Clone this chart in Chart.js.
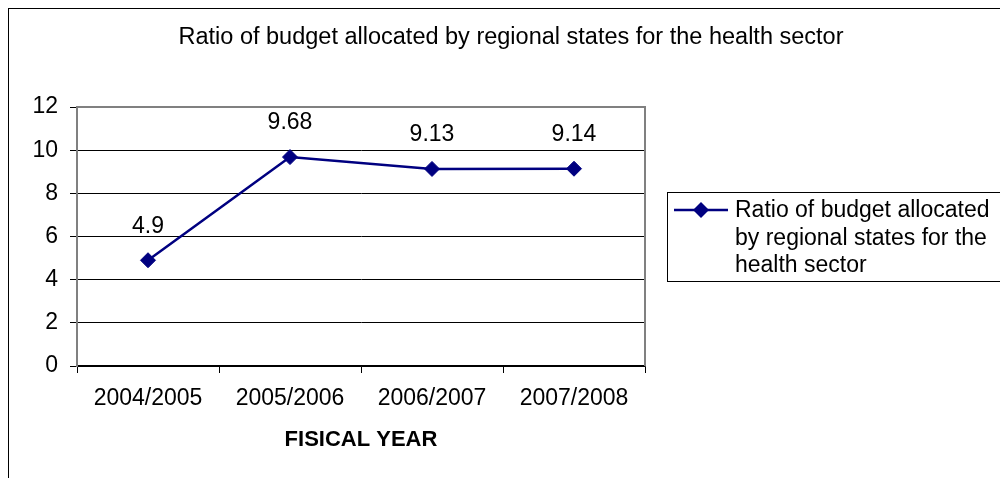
<!DOCTYPE html>
<html>
<head>
<meta charset="utf-8">
<script src="https://cdn.jsdelivr.net/npm/chart.js@4/dist/chart.umd.min.js"></script>
<style>
    html, body { margin: 0; padding: 0; background: #fff; }
    #wrap { width: 1000px; height: 478px; }
</style>
</head>
<body>
<div id="wrap"><canvas id="ratioChart"></canvas></div>
<script>
const chartTitle = 'Ratio of budget allocated by regional states for the health sector';
const fiscalYears = ['2004/2005', '2005/2006', '2006/2007', '2007/2008'];
const budgetRatio = [4.9, 9.68, 9.13, 9.14];
const seriesLabel = 'Ratio of budget allocated by regional states for the health sector';
const xAxisTitle = 'FISICAL YEAR';

const FONT = "'Liberation Sans', Arial, sans-serif";
const NAVY = '#000080';

// frame, plot border, point labels, title and the boxed legend
const decorations = {
    id: 'decorations',
    beforeDatasetsDraw(chart) {
        const { ctx, chartArea: a } = chart;
        ctx.save();
        ctx.strokeStyle = '#808080';
        ctx.lineWidth = 2;
        ctx.beginPath();
        ctx.moveTo(a.left, a.top);
        ctx.lineTo(a.right, a.top);
        ctx.lineTo(a.right, a.bottom);
        ctx.stroke();
        ctx.restore();
    },
    afterDraw(chart) {
        const { ctx } = chart;
        ctx.save();

        ctx.strokeStyle = '#000';
        ctx.lineWidth = 1;
        ctx.strokeRect(8.5, 8.5, 1100, 600);

        ctx.fillStyle = '#000';
        ctx.font = '23.5px ' + FONT;
        ctx.textAlign = 'center';
        ctx.textBaseline = 'middle';
        ctx.fillText(chartTitle, 511, 38);

        // value labels above points
        ctx.font = '23px ' + FONT;
        const meta = chart.getDatasetMeta(0);
        meta.data.forEach((pt, i) => {
            ctx.fillText(String(budgetRatio[i]), pt.x, pt.y - 34);
        });

        // legend
        ctx.strokeStyle = '#000';
        ctx.lineWidth = 1;
        ctx.strokeRect(667.5, 192.5, 400, 89);
        ctx.strokeStyle = NAVY;
        ctx.lineWidth = 2.5;
        ctx.beginPath();
        ctx.moveTo(674, 210);
        ctx.lineTo(728, 210);
        ctx.stroke();
        ctx.fillStyle = NAVY;
        ctx.beginPath();
        ctx.moveTo(701, 202);
        ctx.lineTo(709, 210);
        ctx.lineTo(701, 218);
        ctx.lineTo(693, 210);
        ctx.closePath();
        ctx.fill();

        ctx.fillStyle = '#000';
        ctx.font = '23px ' + FONT;
        ctx.textAlign = 'left';
        const words = seriesLabel.split(' ');
        const lines = [];
        let cur = '';
        words.forEach(w => {
            const test = cur ? cur + ' ' + w : w;
            if (ctx.measureText(test).width > 262 && cur) {
                lines.push(cur);
                cur = w;
            } else {
                cur = test;
            }
        });
        if (cur) lines.push(cur);
        lines.forEach((l, i) => ctx.fillText(l, 735, 211 + i * 27.5));

        ctx.restore();
    },
};

new Chart(document.getElementById('ratioChart'), {
    type: 'line',
    data: {
        labels: fiscalYears,
        datasets: [
            {
                label: seriesLabel,
                data: budgetRatio,
                borderColor: NAVY,
                backgroundColor: NAVY,
                borderWidth: 2.5,
                tension: 0,
                fill: false,
                pointStyle: 'rectRot',
                pointRadius: 7.5,
                pointBorderWidth: 1,
                pointBackgroundColor: NAVY,
                pointBorderColor: NAVY,
            },
        ],
    },
    options: {
        responsive: true,
        maintainAspectRatio: false,
        animation: false,
        layout: {
            padding: { left: 0, top: 107, right: 355, bottom: 0 },
        },
        plugins: {
            legend: { display: false },
            title: { display: false },
            tooltip: { enabled: false },
        },
        scales: {
            x: {
                offset: true,
                afterFit(scale) { scale.height = 112; },
                grid: {
                    offset: true,
                    drawOnChartArea: false,
                    drawTicks: true,
                    tickLength: 7,
                    tickColor: '#000',
                },
                border: { color: '#000', width: 1.5 },
                ticks: {
                    color: '#000',
                    padding: 12,
                    maxRotation: 0,
                    font: { family: FONT, size: 23 },
                },
                title: {
                    display: true,
                    text: xAxisTitle,
                    color: '#000',
                    padding: { top: 0, bottom: 25 },
                    font: { family: FONT, size: 22, weight: 'bold' },
                },
            },
            y: {
                min: 0,
                max: 12,
                afterFit(scale) { scale.width = 77; },
                grid: {
                    color: '#000',
                    lineWidth: 1,
                    tickLength: 7,
                    tickColor: '#000',
                },
                border: { color: '#808080', width: 2 },
                ticks: {
                    stepSize: 2,
                    color: '#000',
                    padding: 12,
                    font: { family: FONT, size: 23 },
                },
            },
        },
    },
    plugins: [decorations],
});
</script>
</body>
</html>
